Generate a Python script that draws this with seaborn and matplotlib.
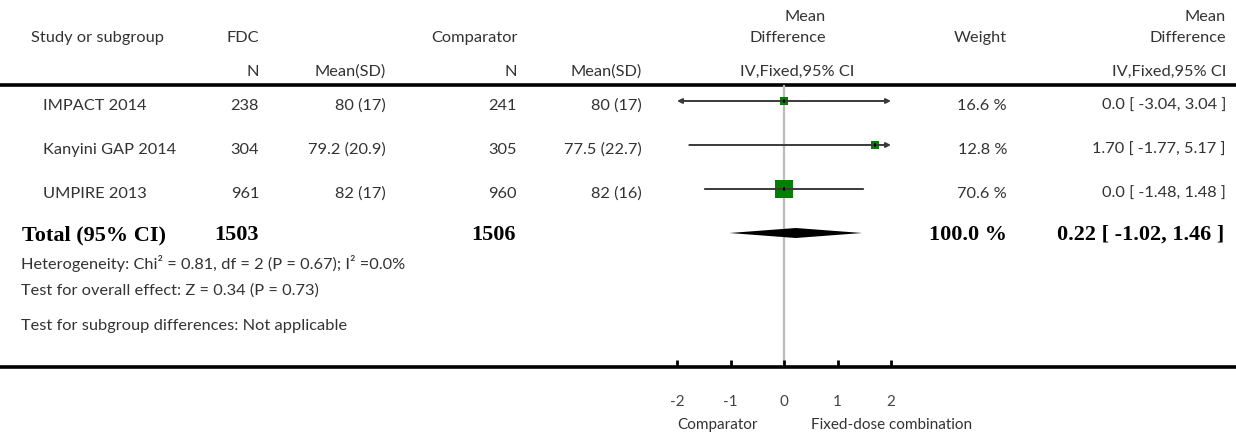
import numpy as np
import pandas as pd
import seaborn as sns
import matplotlib.pyplot as plt

# study data
studies = ["IMPACT 2014", "Kanyini GAP 2014", "UMPIRE 2013"]
fdc_n = [238, 304, 961]
fdc_mean = [80, 79.2, 82]
fdc_sd = [17, 20.9, 17]
comp_n = [241, 305, 960]
comp_mean = [80, 77.5, 82]
comp_sd = [17, 22.7, 16]
weights = [16.6, 12.8, 70.6]
md = [0.0, 1.70, 0.0]
ci_lo = [-3.04, -1.77, -1.48]
ci_hi = [3.04, 5.17, 1.48]
md_labels = ["0.0", "1.70", "0.0"]

# pooled result
total_fdc_n = 1503
total_comp_n = 1506
total_md = 0.22
total_lo = -1.02
total_hi = 1.46

xticks = [-2, -1, 0, 1, 2]
xtick_labels = ["-2", "-1", "0", "1", "2"]

footer = [
    "Heterogeneity: Chi\u00b2 = 0.81, df = 2 (P = 0.67); I\u00b2 =0.0%",
    "Test for overall effect: Z = 0.34 (P = 0.73)",
    "Test for subgroup differences: Not applicable",
]

sns.set_style("white")
plt.rcParams['font.family'] = ['Lato', 'DejaVu Sans']

W, H = 1236, 433
fig = plt.figure(figsize=(W / 100, H / 100), dpi=100)

# background axes in pixel units for the table text and rules
bg = fig.add_axes([0, 0, 1, 1])
bg.set_xlim(0, W)
bg.set_ylim(H, 0)
bg.axis('off')

# forest axes: -2..2 across the plot column, one unit per row
x0, x1 = 677, 891
top, bot = 85, 367
first, step = 101, 44
ax = fig.add_axes([x0 / W, 1 - bot / H, (x1 - x0) / W, (bot - top) / H])
ax.patch.set_visible(False)
ax.set_xlim(-2, 2)
ax.set_ylim((bot - first) / step, (top - first) / step)

txt = '#333333'
fs = 11.8
bold = dict(family=['Liberation Serif'], fontweight='bold', fontsize=16, color='black')

def ry(i, off=5):
    return first + i * step + off

# header
bg.text(31, 38, "Study or subgroup", fontsize=fs, color=txt, va='center')
bg.text(259, 38, "FDC", fontsize=fs, color=txt, va='center', ha='right')
bg.text(518, 38, "Comparator", fontsize=fs, color=txt, va='center', ha='right')
for x, s in [(259, "N"), (386, "Mean(SD)"), (517, "N"), (642, "Mean(SD)")]:
    bg.text(x, 72, s, fontsize=fs, color=txt, va='center', ha='right')
bg.text(826, 17, "Mean", fontsize=fs, color=txt, va='center', ha='right')
bg.text(826, 38, "Difference", fontsize=fs, color=txt, va='center', ha='right')
bg.text(797, 72, "IV,Fixed,95% CI", fontsize=fs, color=txt, va='center', ha='center')
bg.text(1007, 38, "Weight", fontsize=fs, color=txt, va='center', ha='right')
bg.text(1226, 17, "Mean", fontsize=fs, color=txt, va='center', ha='right')
bg.text(1226, 38, "Difference", fontsize=fs, color=txt, va='center', ha='right')
bg.text(1226, 72, "IV,Fixed,95% CI", fontsize=fs, color=txt, va='center', ha='right')

# rules
bg.axhline(top, color='black', lw=2.6)
bg.axhline(bot, color='black', lw=2.6)

# study rows
for i, name in enumerate(studies):
    y = ry(i)
    bg.text(43, y, name, fontsize=fs, color=txt, va='center')
    bg.text(259, y, f"{fdc_n[i]}", fontsize=fs, color=txt, va='center', ha='right')
    bg.text(386, y, f"{fdc_mean[i]:g} ({fdc_sd[i]:g})", fontsize=fs, color=txt, va='center', ha='right')
    bg.text(517, y, f"{comp_n[i]}", fontsize=fs, color=txt, va='center', ha='right')
    bg.text(642, y, f"{comp_mean[i]:g} ({comp_sd[i]:g})", fontsize=fs, color=txt, va='center', ha='right')
    bg.text(1007, y, f"{weights[i]:.1f} %", fontsize=fs, color=txt, va='center', ha='right')
    bg.text(1226, y, f"{md_labels[i]} [ {ci_lo[i]:.2f}, {ci_hi[i]:.2f} ]",
            fontsize=fs, color=txt, va='center', ha='right')

# total row
yt = ry(3, 2)
bg.text(22, yt, "Total (95% CI)", va='center', **bold)
bg.text(259, yt, f"{total_fdc_n}", va='center', ha='right', **bold)
bg.text(516, yt, f"{total_comp_n}", va='center', ha='right', **bold)
bg.text(1007, yt, "100.0 %", va='center', ha='right', **bold)
bg.text(1224, yt, f"{total_md:.2f} [ {total_lo:.2f}, {total_hi:.2f} ]", va='center', ha='right', **bold)

for y, s in zip([264, 291, 326], footer):
    bg.text(21, y, s, fontsize=fs, color=txt, va='center')

# forest plot marks
ax.axvline(0, color='#bbbbbb', lw=1.6, zorder=0)

lo_c = np.clip(ci_lo, -2, 2)
hi_c = np.clip(ci_hi, -2, 2)
for i in range(len(studies)):
    left_cut = ci_lo[i] < -2
    right_cut = ci_hi[i] > 2
    style = {(True, True): '<|-|>', (False, True): '-|>',
             (True, False): '<|-', (False, False): '-'}[(left_cut, right_cut)]
    ax.annotate('', xy=(hi_c[i], i), xytext=(lo_c[i], i),
                arrowprops=dict(arrowstyle=style, color='#3a3a3a', lw=1.4,
                                shrinkA=0, shrinkB=0, mutation_scale=7),
                annotation_clip=False, zorder=4)

df = pd.DataFrame({'md': md, 'row': range(len(studies)), 'weight': weights})
sns.scatterplot(data=df, x='md', y='row', size='weight', sizes=(32, 179),
                marker='s', color='#008000', edgecolor='none', linewidth=0,
                legend=False, ax=ax, zorder=3)
ax.scatter(md, range(len(studies)), marker='|', s=12, color='black', linewidths=1.2, zorder=5)

h = 5 / step
ax.fill([total_lo, total_md, total_hi, total_md], [3, 3 - h, 3, 3 + h], color='black', lw=0, zorder=4)

ax.set_xticks(xticks)
ax.set_xticklabels(xtick_labels)
ax.set_yticks([])
ax.set_xlabel('')
ax.set_ylabel('')
for sp in ax.spines.values():
    sp.set_visible(False)
ax.tick_params(axis='x', direction='in', length=5, width=2, color='black',
               pad=20, labelsize=11, labelcolor='#444444', bottom=True)

bg.text(718, 425, "Comparator", fontsize=11, color=txt, va='center', ha='center')
bg.text(811, 425, "Fixed-dose combination", fontsize=11, color=txt, va='center', ha='left')

plt.savefig("out.png", dpi=100)
